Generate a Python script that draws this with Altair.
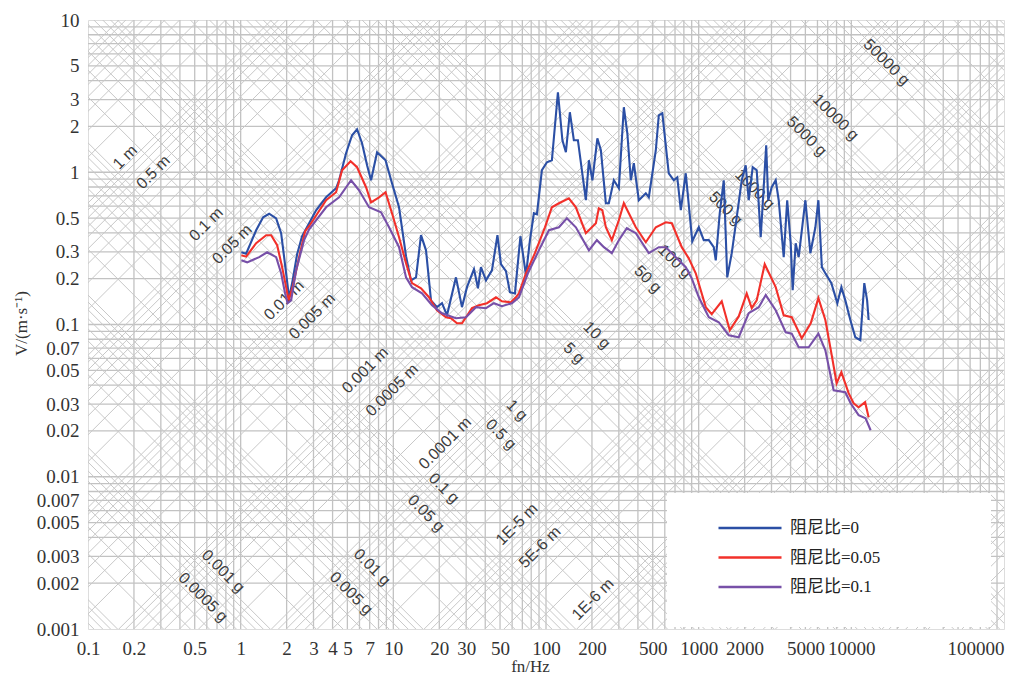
import math
import altair as alt
import pandas as pd

# ---------------- data ----------------
series_names = ["阻尼比=0", "阻尼比=0.05", "阻尼比=0.1"]
series_colors = ["#2b4fa5", "#f2302a", "#7750a8"]

blue_f = [1.01, 1.086, 1.263, 1.403, 1.537, 1.708, 1.841, 1.926, 2.0, 2.077,
          2.189, 2.343, 2.526, 2.808, 3.12, 3.627, 4.217, 4.412, 4.902, 5.367,
          5.786, 6.238, 6.73, 7.146, 7.823, 8.89, 9.8, 10.9, 12.11, 13.05,
          14.08, 15.18, 16.37, 17.65, 19.32, 20.83, 22.46, 25.72, 28.16, 30.37,
          33.75, 35.84, 37.5, 40.44, 44.25, 48.08, 50.68, 54.65, 58.03, 62.6,
          68.0, 73.9, 78.5, 83.3, 87.2, 94.0, 101.4, 109.3, 119.7, 128.1,
          135.0, 143.3, 152.2, 161.8, 182.4, 191, 201.3, 217, 228.8, 246.6,
          258, 278.2, 300, 323.5, 341, 359.4, 376.1, 405.5, 450.6, 471.5,
          524, 548, 578, 637, 687, 724, 764, 823, 908, 1002,
          1080, 1165, 1256, 1294, 1374, 1460, 1539, 1647, 1776, 1915,
          2033, 2128, 2259, 2400, 2549, 2667, 2769, 2854, 3009, 3196,
          3344, 3606, 3801, 4007, 4129, 4320, 4520, 5000, 5392, 5814,
          6084, 6412, 6759, 7399, 8100, 8603, 9135, 9851, 10620, 11450,
          12160, 12690, 12980]
blue_v = [0.298, 0.2915, 0.416, 0.506, 0.534, 0.498, 0.398, 0.277, 0.204, 0.149,
          0.195, 0.289, 0.38, 0.462, 0.563, 0.685, 0.785, 0.886, 1.333, 1.75,
          1.916, 1.55, 1.112, 0.886, 1.353, 1.199, 0.847, 0.589, 0.281, 0.195,
          0.204, 0.386, 0.307, 0.144, 0.130, 0.138, 0.115, 0.204, 0.130, 0.176,
          0.231, 0.173, 0.238, 0.195, 0.227, 0.386, 0.249, 0.224, 0.163, 0.160,
          0.380, 0.211, 0.358, 0.538, 0.530, 1.031, 1.163, 1.199, 3.353, 1.623,
          1.353, 2.478, 1.623, 1.623, 0.655, 1.199, 0.886, 1.672, 1.395, 0.626,
          0.626, 0.886, 0.785, 2.673, 1.804, 0.886, 1.146, 0.655, 0.728, 0.685,
          1.395, 2.367, 2.441, 0.985, 0.886, 0.927, 0.563, 0.985, 0.352, 0.435,
          0.358, 0.358, 0.322, 0.264, 0.538, 0.886, 0.204, 0.294, 0.507, 0.886,
          1.112, 0.655, 1.079, 1.031, 0.374, 0.797, 1.504, 0.655, 0.797, 0.886,
          0.655, 0.277, 0.655, 0.342, 0.168, 0.342, 0.277, 0.655, 0.294, 0.435,
          0.655, 0.238, 0.217, 0.187, 0.138, 0.176, 0.144, 0.107, 0.0825, 0.0788,
          0.187, 0.144, 0.107]

red_f = [1.01, 1.086, 1.263, 1.469, 1.584, 1.734, 1.869, 1.985, 2.062, 2.189,
         2.414, 2.644, 2.808, 3.627, 4.217, 4.616, 5.248, 5.786, 6.627, 7.146,
         8.062, 8.89, 9.8, 10.9, 12.11, 13.25, 15.18, 17.12, 19.32, 22.13,
         23.86, 26.12, 28.16, 29.92, 32.73, 36.37, 41.05, 47.0, 51.4, 58.9,
         63.5, 66.5, 73.9, 84.6, 98.4, 109.3, 121.5, 141.2, 156.9, 182.4,
         212.2, 221.8, 233.9, 246.6, 270, 300, 323.5, 348.8, 387.6, 450.6,
         524, 609, 667, 775, 861, 957, 1113, 1218, 1416, 1598,
         1830, 2064, 2226, 2400, 2708, 3196, 3606, 4069, 4732, 5420,
         6084, 6759, 7399, 8011, 8603, 9600, 10350, 11160, 12310, 12980]
red_v = [0.285, 0.279, 0.342, 0.386, 0.386, 0.332, 0.238, 0.176, 0.144, 0.176,
         0.277, 0.41, 0.442, 0.655, 0.739, 1.031, 1.181, 1.079, 0.797, 0.635,
         0.685, 0.739, 0.538, 0.374, 0.253, 0.187, 0.173, 0.151, 0.124, 0.1116,
         0.1099, 0.1019, 0.1019, 0.1116, 0.128, 0.134, 0.138, 0.151, 0.142, 0.140,
         0.151, 0.160, 0.217, 0.294, 0.435, 0.589, 0.626, 0.675, 0.589, 0.398,
         0.462, 0.580, 0.563, 0.435, 0.358, 0.484, 0.626, 0.538, 0.435, 0.347,
         0.435, 0.469, 0.462, 0.322, 0.272, 0.217, 0.130, 0.117, 0.142, 0.0917,
         0.113, 0.160, 0.128, 0.144, 0.249, 0.176, 0.115, 0.1116, 0.0812, 0.1019,
         0.149, 0.107, 0.0648, 0.0411, 0.0486, 0.0354, 0.0304, 0.0286, 0.0309, 0.0246]

purple_f = [1.01, 1.103, 1.322, 1.491, 1.708, 1.841, 1.955, 2.030, 2.140, 2.308,
            2.603, 2.808, 3.627, 4.412, 5.288, 5.964, 6.934, 8.31, 9.374, 10.9,
            12.11, 13.25, 15.41, 17.92, 20.83, 25.72, 29.92, 34.77, 40.44, 45.6,
            51.4, 59.8, 66.5, 76.1, 89.8, 104.5, 121.5, 137.0, 156.9, 191,
            215.4, 239.3, 270, 300, 338.3, 387.6, 471.5, 548, 609, 708,
            823, 901, 1002, 1165, 1354, 1574, 1830, 2128, 2474, 2749,
            3196, 3715, 4069, 4520, 5254, 6084, 6759, 7657, 9135, 9895,
            11160, 12400, 13380]
purple_v = [0.264, 0.256, 0.277, 0.298, 0.277, 0.217, 0.160, 0.138, 0.144, 0.227,
            0.358, 0.422, 0.589, 0.685, 0.886, 0.762, 0.589, 0.546, 0.435, 0.322,
            0.204, 0.176, 0.160, 0.134, 0.1186, 0.1099, 0.1116, 0.130, 0.128, 0.138,
            0.132, 0.138, 0.151, 0.217, 0.307, 0.416, 0.435, 0.498, 0.435, 0.307,
            0.358, 0.322, 0.294, 0.358, 0.429, 0.398, 0.294, 0.322, 0.322, 0.277,
            0.238, 0.201, 0.151, 0.1116, 0.1035, 0.085, 0.0825, 0.1186, 0.130, 0.156,
            0.124, 0.0889, 0.0871, 0.0709, 0.0709, 0.0871, 0.0677, 0.037, 0.0359, 0.0304,
            0.0254, 0.0242, 0.0202]

# tick labels
x_ticks = [0.1, 0.2, 0.5, 1, 2, 3, 4, 5, 7, 10, 20, 30, 50, 100, 200, 500,
           1000, 2000, 5000, 10000, 100000]
y_ticks = [10, 5, 3, 2, 1, 0.5, 0.3, 0.2, 0.1, 0.07, 0.05, 0.03, 0.02, 0.01,
           0.007, 0.005, 0.003, 0.002, 0.001]

# tripartite grid definition
grid_mantissas = [1, 2, 3, 4, 5, 6, 7, 8, 9]
x_grid_decades = [-1, 0, 1, 2, 3, 4]
y_grid_decades = [-3, -2, -1, 0]
disp_decades = list(range(-9, 2))      # displacement lines, metres
acc_decades = list(range(-5, 6))       # acceleration lines, g
G = 9.80665
f_ends = [0.1, 100000]

# diagonal labels (text, frequency Hz, velocity m/s at label centre)
disp_text = ["1 m", "0.5 m", "0.1 m", "0.05 m", "0.01 m", "0.005 m", "0.001 m",
             "0.0005 m", "0.0001 m", "1E-5 m", "5E-6 m", "1E-6 m"]
disp_lf = [0.1754, 0.2676, 0.5945, 0.88, 1.926, 2.938, 6.53, 9.80, 21.8, 64.5, 91.2, 202.8]
disp_lv = [1.254, 1.0, 0.4555, 0.3366, 0.1443, 0.1133, 0.0501, 0.037, 0.0166,
           0.00488, 0.00344, 0.00157]
acc_text = ["0.0005 g", "0.001 g", "0.005 g", "0.01 g", "0.05 g", "0.1 g", "0.5 g",
            "1 g", "5 g", "10 g", "50 g", "100 g", "500 g", "1000 g", "5000 g",
            "10000 g", "50000 g"]
acc_lf = [0.568, 0.768, 5.288, 7.254, 16.37, 21.47, 50.7, 64.5, 152.2, 215.4,
          464.5, 697.8, 1505, 2329, 5099, 7895, 17020]
acc_lv = [0.001616, 0.002395, 0.001718, 0.002545, 0.00576, 0.0084, 0.019, 0.02734,
          0.0648, 0.085, 0.1982, 0.2602, 0.58, 0.773, 1.723, 2.297, 5.279]

# ---------------- tables ----------------
rows = []
for name, fs, vs in zip(series_names, [blue_f, red_f, purple_f], [blue_v, red_v, purple_v]):
    for f, v in zip(fs, vs):
        rows.append({"f": f, "v": v, "series": name})
curves = pd.DataFrame(rows)

vgrid = pd.DataFrame({"f": [round(m * 10 ** k, 10) for k in x_grid_decades
                            for m in grid_mantissas if 0.1 < m * 10 ** k < 100000]})
hgrid = pd.DataFrame({"v": [round(m * 10 ** k, 10) for k in y_grid_decades
                            for m in grid_mantissas if 0.001 < m * 10 ** k < 10]})

drows = []
for k in disp_decades:
    for m in grid_mantissas:
        d = m * 10 ** k
        for f in f_ends:
            drows.append({"f": f, "v": 2 * math.pi * f * d, "id": f"d{k}_{m}"})
for k in acc_decades:
    for m in grid_mantissas:
        a = m * 10 ** k
        for f in f_ends:
            drows.append({"f": f, "v": a * G / (2 * math.pi * f), "id": f"a{k}_{m}"})
diag = pd.DataFrame(drows)

dlab = pd.DataFrame({"f": disp_lf, "v": disp_lv, "t": disp_text})
alab = pd.DataFrame({"f": acc_lf, "v": acc_lv, "t": acc_text})

# ---------------- encodings ----------------
SERIF = "Liberation Serif"
xs = alt.Scale(type="log", domain=[0.1, 100000], nice=False)
ys = alt.Scale(type="log", domain=[0.001, 10], nice=False)

x_axis = alt.Axis(values=x_ticks, format="~g", grid=False, ticks=False, tickSize=0,
                  domain=False, labelFont=SERIF, labelFontSize=19, labelColor="#333333",
                  labelPadding=10, labelFlush=False, labelOverlap=False,
                  labelAlign={"condition": {"test": "datum.value >= 100000", "value": "right"},
                              "value": "center"},
                  title="fn/Hz", titleFont=SERIF, titleFontSize=17,
                  titleFontWeight="normal", titleColor="#333333",
                  titleX=442, titleY=37, titleBaseline="middle")
y_axis = alt.Axis(values=y_ticks, format="~g", grid=False, ticks=False, tickSize=0,
                  domain=False, labelFont=SERIF, labelFontSize=19, labelColor="#333333",
                  labelPadding=9, labelFlush=False, labelOverlap=False,
                  title="V/(m·s⁻¹)", titleFont=SERIF, titleFontSize=17,
                  titleFontWeight="normal", titleColor="#333333",
                  titleX=-67, titleY=303, titleAngle=270, titleAlign="center",
                  titleBaseline="middle")

X = alt.X("f:Q", scale=xs, axis=x_axis)
Y = alt.Y("v:Q", scale=ys, axis=y_axis)

vrules = alt.Chart(vgrid).mark_rule(color="#c2c2c2", strokeWidth=1.3).encode(x=X)
hrules = alt.Chart(hgrid).mark_rule(color="#c2c2c2", strokeWidth=1.3).encode(y=Y)
diag_lines = alt.Chart(diag).mark_line(color="#c8c8c8", strokeWidth=1, clip=True).encode(
    x=X, y=Y, detail="id:N")

LABEL_FONT = "Liberation Sans"
dtext = alt.Chart(dlab).mark_text(angle=315, font=LABEL_FONT, fontSize=16,
                                  color="#3d3d3d").encode(x=X, y=Y, text="t:N")
atext = alt.Chart(alab).mark_text(angle=45, font=LABEL_FONT, fontSize=16,
                                  color="#3d3d3d").encode(x=X, y=Y, text="t:N")

legend = alt.Legend(
    title="\u00a0", titleOrient="right", titlePadding=88, titleFontSize=88,
    titleAnchor="start", titleBaseline="top",
    orient="none", legendX=579, legendY=473, fillColor="white",
    padding=23, symbolType="M-3,0H3", symbolSize=441, symbolStrokeWidth=2.5,
    symbolOffset=48, labelOffset=28, rowPadding=9.5,
    labelFont="Liberation Serif, Noto Sans CJK SC", labelFontSize=17, labelColor="#222222",
    labelLimit=400,
)
lines = alt.Chart(curves).mark_line(strokeWidth=2.1).encode(
    x=X, y=Y,
    color=alt.Color("series:N", scale=alt.Scale(domain=series_names, range=series_colors),
                    sort=series_names, legend=legend),
    order=alt.Order("f:Q"),
)

chart = alt.layer(vrules, hrules, diag_lines, dtext, atext, lines).properties(
    width=916, height=609,
    autosize=alt.AutoSizeParams(type="none"),
    padding={"left": 80, "top": 12, "right": 19, "bottom": 46},
).configure_view(stroke="black", strokeWidth=2.2).configure(background="white")

chart.save("out.html", embed_options={"renderer": "svg", "actions": False})
